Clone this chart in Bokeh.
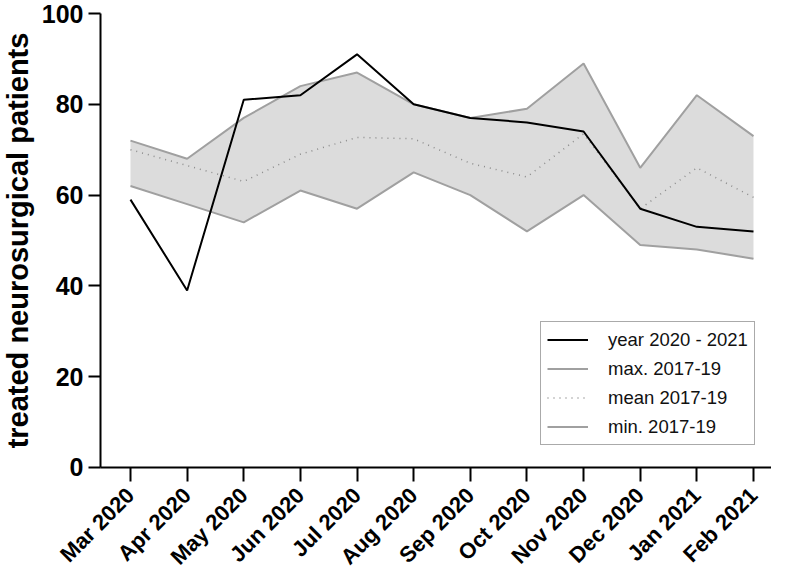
import math
from bokeh.plotting import figure
from bokeh.models import (Range1d, FixedTicker, Legend, LegendItem,
                          ColumnDataSource, Label)
from bokeh.embed import file_html
from bokeh.resources import INLINE

months = ["Mar 2020", "Apr 2020", "May 2020", "Jun 2020", "Jul 2020", "Aug 2020",
          "Sep 2020", "Oct 2020", "Nov 2020", "Dec 2020", "Jan 2021", "Feb 2021"]
year_2020_21 = [59, 39, 81, 82, 91, 80, 77, 76, 74, 57, 53, 52]
max_2017_19 = [72, 68, 77, 84, 87, 80, 77, 79, 89, 66, 82, 73]
mean_2017_19 = [70, 66.5, 63, 69, 72.7, 72.4, 67, 64, 73.5, 57, 66, 59.5]
min_2017_19 = [62, 58, 54, 61, 57, 65, 60, 52, 60, 49, 48, 46]
y_ticks = [0, 20, 40, 60, 80, 100]
y_title = "treated neurosurgical patients"

xs = list(range(len(months)))
src = ColumnDataSource(dict(x=xs, year=year_2020_21, mx=max_2017_19,
                            mean=mean_2017_19, mn=min_2017_19))

FONT = "Liberation Sans"

# The plotting frame covers the whole canvas; both axes are pinned at
# data locations inside it so that the rotated month labels have room.
p = figure(width=771, height=574, output_backend="svg", toolbar_location=None,
           x_range=Range1d(-2.295, 11.318), y_range=Range1d(-23.57, 102.86),
           min_border_left=0, min_border_right=0, min_border_top=0,
           min_border_bottom=0)
p.outline_line_color = None
p.xgrid.visible = False
p.ygrid.visible = False
p.background_fill_color = "white"
p.border_fill_color = "white"

p.varea(x="x", y1="mn", y2="mx", source=src, fill_color="#dcdcdc")
r_max = p.line("x", "mx", source=src, line_color="#a0a0a0", line_width=2)
r_min = p.line("x", "mn", source=src, line_color="#a0a0a0", line_width=2)
r_mean = p.line("x", "mean", source=src, line_color="#8c8c8c", line_width=1.5,
                line_dash="1 5")
r_year = p.line("x", "year", source=src, line_color="black", line_width=2)

Y_AXIS_AT = -0.53   # data x where the y axis is drawn
X_AXIS_END = 11.39

# x axis
p.xaxis.fixed_location = 0
p.xaxis.bounds = (Y_AXIS_AT, X_AXIS_END)
p.xaxis.ticker = FixedTicker(ticks=xs)
p.xaxis.major_label_overrides = {i: m for i, m in enumerate(months)}
p.xaxis.major_label_orientation = math.pi / 4
p.xaxis.major_label_text_font = FONT
p.xaxis.major_label_text_font_style = "bold"
p.xaxis.major_label_text_font_size = "22px"
p.xaxis.major_label_text_color = "black"
p.xaxis.major_tick_out = 14
p.xaxis.major_tick_in = 0
p.xaxis.minor_tick_out = 0
p.xaxis.minor_tick_in = 0
p.xaxis.axis_line_width = 2
p.xaxis.major_tick_line_width = 2
p.xaxis.major_label_standoff = 10

# y axis
p.yaxis.fixed_location = Y_AXIS_AT
p.yaxis.bounds = (0, 100)
p.yaxis.ticker = FixedTicker(ticks=y_ticks)
p.yaxis.major_label_text_font = FONT
p.yaxis.major_label_text_font_style = "bold"
p.yaxis.major_label_text_font_size = "25px"
p.yaxis.major_label_text_color = "black"
p.yaxis.major_tick_out = 12
p.yaxis.major_tick_in = 0
p.yaxis.minor_tick_out = 0
p.yaxis.minor_tick_in = 0
p.yaxis.axis_line_width = 2
p.yaxis.major_tick_line_width = 2
p.yaxis.major_label_standoff = 5

title = Label(x=17, x_units="screen", y=50, y_units="data", text=y_title,
              angle=math.pi / 2, text_align="center", text_baseline="middle",
              text_font=FONT, text_font_style="bold", text_font_size="29px",
              text_color="black")
p.add_layout(title)

legend = Legend(items=[
    LegendItem(label="year 2020 - 2021", renderers=[r_year]),
    LegendItem(label="max. 2017-19", renderers=[r_max]),
    LegendItem(label="mean 2017-19", renderers=[r_mean]),
    LegendItem(label="min. 2017-19", renderers=[r_min]),
], location=(540, 129))
legend.label_text_font = FONT
legend.label_text_font_size = "18.5px"
legend.label_text_color = "#111111"
legend.glyph_width = 41
legend.label_standoff = 20
legend.label_height = 23
legend.glyph_height = 23
legend.spacing = 6
legend.padding = 6
legend.margin = 0
legend.border_line_color = "#555555"
legend.border_line_width = 1
legend.background_fill_alpha = 1
p.add_layout(legend, "center")

open("out.html", "w").write(file_html(p, INLINE))
